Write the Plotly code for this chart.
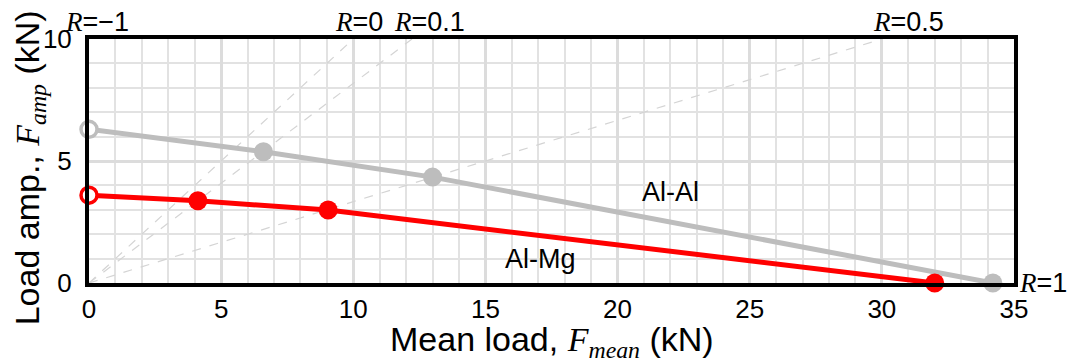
import plotly.graph_objects as go

# Data
alal_x = [0, 6.6, 13.0, 34.2]
alal_y = [6.3, 5.38, 4.34, 0]
almg_x = [0, 4.12, 9.05, 32.0]
almg_y = [3.6, 3.37, 2.99, 0]
r_values = [-1, 0, 0.1, 0.5, 1]
r_labels = ["−1", "0", "0.1", "0.5", "1"]

GRAY = "#bdbdbd"
RED = "#ff0000"
SERIF = "Liberation Serif"
SANS = "Liberation Sans"

fig = go.Figure()

# R lines (dashed), Famp/Fmean = (1-R)/(1+R), drawn up to y=10
for r in r_values:
    if r == -1 or r == 1:
        continue
    k = (1 - r) / (1 + r)
    fig.add_trace(go.Scatter(x=[0, 10 / k], y=[0, 10], mode="lines",
                             line=dict(color="#d4d4d4", width=1.2, dash="dash"),
                             showlegend=False, hoverinfo="skip"))

def add_series(xs, ys, color):
    fig.add_trace(go.Scatter(x=xs, y=ys, mode="lines",
                             line=dict(color=color, width=5), showlegend=False))
    fig.add_trace(go.Scatter(x=xs[1:], y=ys[1:], mode="markers",
                             marker=dict(color=color, size=19), showlegend=False, cliponaxis=False))
    fig.add_trace(go.Scatter(x=xs[:1], y=ys[:1], mode="markers",
                             marker=dict(color="white", size=16, line=dict(color=color, width=3.5)),
                             showlegend=False, cliponaxis=False))

add_series(alal_x, alal_y, GRAY)
add_series(almg_x, almg_y, RED)

def rtext(lbl):
    return f'<span style="font-family:{SERIF}"><i>R</i></span>={lbl}'

RFONT = dict(size=27, family=SANS, color="black")
# top R labels
fig.add_annotation(x=0, y=1, xref="paper", yref="paper", xanchor="center", yanchor="bottom",
                   xshift=8, text=rtext(r_labels[0]), showarrow=False, font=RFONT)
top_pos = {r_labels[1]: 10.2, r_labels[2]: 12.9, r_labels[3]: 31.0}
for lbl, xp in top_pos.items():
    fig.add_annotation(x=xp, y=1, xref="x", yref="paper", xanchor="center", yanchor="bottom",
                       text=rtext(lbl), showarrow=False, font=RFONT)
fig.add_annotation(x=1, y=0, xref="paper", yref="y", xanchor="left", xshift=3,
                   text=rtext(r_labels[4]), showarrow=False, font=RFONT)

fig.add_annotation(x=22.0, y=3.75, text="Al-Al", showarrow=False,
                   font=dict(size=27, family=SANS, color="black"))
fig.add_annotation(x=17.1, y=1.0, text="Al-Mg", showarrow=False,
                   font=dict(size=27, family=SANS, color="black"))

# axis titles as annotations for precise placement
TFONT = dict(size=34, family=SANS, color="black")
fig.add_annotation(x=0.5, y=0, xref="paper", yref="paper", xanchor="center", yanchor="middle",
                   yshift=-58,
                   text='Mean load, <span style="font-family:' + SERIF + '"><i>F</i><sub><i>mean</i></sub></span> (kN)',
                   showarrow=False, font=TFONT)
fig.add_annotation(x=0, y=0.47, xref="paper", yref="paper", xanchor="center", yanchor="middle",
                   xshift=-60, textangle=-90,
                   text='Load amp., <span style="font-family:' + SERIF + '"><i>F</i><sub><i>amp</i></sub></span> (kN)',
                   showarrow=False, font=TFONT)

grid_minor = dict(dtick=1, showgrid=True, gridcolor="#e2e2e2", gridwidth=1.5)

fig.update_xaxes(range=[0, 35], tick0=0, dtick=5, showgrid=True, gridcolor="#dcdcdc",
                 gridwidth=2.5, minor=grid_minor, zeroline=False,
                 showline=True, linecolor="black", linewidth=4, mirror=True,
                 ticks="", ticklabelstandoff=0,
                 tickfont=dict(size=26, family=SANS, color="black"))
fig.update_yaxes(range=[0, 10], tick0=0, dtick=5, showgrid=True, gridcolor="#dcdcdc",
                 gridwidth=2.5, minor=grid_minor, zeroline=False,
                 showline=True, linecolor="black", linewidth=4, mirror=True,
                 ticks="", ticklabelstandoff=8,
                 tickfont=dict(size=26, family=SANS, color="black"))

fig.update_layout(width=1069, height=363, margin=dict(l=89, r=55, t=39, b=80),
                  plot_bgcolor="white", paper_bgcolor="white")

fig.write_html("out.html")
